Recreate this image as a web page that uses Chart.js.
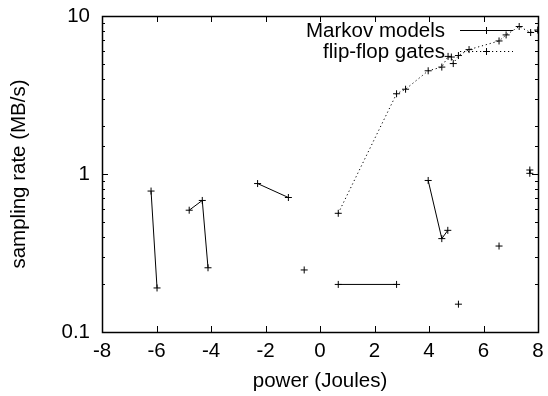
<!DOCTYPE html>
<html>
<head>
<meta charset="utf-8">
<script src="https://cdn.jsdelivr.net/npm/chart.js@4"></script>
<style>
  html, body { margin: 0; padding: 0; background: #fff; }
  #wrap { width: 548px; height: 396px; }
</style>
</head>
<body>
<div id="wrap"><canvas id="chart" width="548" height="396"></canvas></div>
<script>
// series data (null = break in the line)
const markovX = [-6.2, -5.98, null, -4.8, -4.32, -4.11, null, -2.29, -1.16, null, -0.58, null, 0.67, 2.81, null, 3.97, 4.47, 4.69, null, 5.08, null, 6.57, null, 7.7, 7.7];
const markovY = [0.78, 0.19, null, 0.59, 0.68, 0.255, null, 0.87, 0.71, null, 0.247, null, 0.2, 0.2, null, 0.91, 0.39, 0.44, null, 0.15, null, 0.35, null, 1.06, 1.01];
const flipX = [0.67, 2.81, 3.14, 3.97, 4.47, 4.7, 4.82, 4.89, 5.08, 5.47, 6.57, 6.83, 7.31, 7.73, 7.99];
const flipY = [0.564, 3.22, 3.44, 4.5, 4.75, 5.55, 5.5, 5.0, 5.62, 6.13, 6.95, 7.59, 8.58, 7.86, 8.15];
const seriesNames = ['Markov models', 'flip-flop gates'];
const xTicks = [-8, -6, -4, -2, 0, 2, 4, 6, 8];
const yLabelTicks = [0.1, 1, 10];

const FONT = '"Liberation Sans", Arial, Helvetica, sans-serif';
const FSIZE = 20.5;

function toPoints(xs, ys) {
    return xs.map((x, i) => ({ x: x, y: ys[i] }));
}

// gnuplot-like frame: border box, inward ticks on all four sides, legend top right
const framePlugin = {
    id: 'frame',
    afterDraw(chart) {
        const ctx = chart.ctx;
        const a = chart.chartArea;
        const xs = chart.scales.x, ys = chart.scales.y;
        ctx.save();
        ctx.strokeStyle = '#000';
        ctx.lineWidth = 1;
        ctx.setLineDash([]);
        ctx.beginPath();
        xTicks.forEach(v => {
            const px = Math.round(xs.getPixelForValue(v)) + 0.5;
            ctx.moveTo(px, a.bottom); ctx.lineTo(px, a.bottom - 6);
            ctx.moveTo(px, a.top); ctx.lineTo(px, a.top + 6);
        });
        ys.ticks.forEach(t => {
            const major = yLabelTicks.some(v => Math.abs(v - t.value) < 1e-9);
            const len = major ? 6 : 3;
            const py = Math.round(ys.getPixelForValue(t.value)) + 0.5;
            ctx.moveTo(a.left, py); ctx.lineTo(a.left + len, py);
            ctx.moveTo(a.right, py); ctx.lineTo(a.right - len, py);
        });
        ctx.stroke();
        ctx.lineWidth = 1.5;
        ctx.strokeRect(Math.round(a.left) + 0.5, Math.round(a.top) + 0.5,
            Math.round(a.right - a.left), Math.round(a.bottom - a.top));

        // legend
        ctx.font = FSIZE + 'px ' + FONT;
        ctx.fillStyle = '#000';
        ctx.textAlign = 'right';
        ctx.textBaseline = 'middle';
        chart.data.datasets.forEach((ds, i) => {
            const y = 30 + i * 21;
            ctx.fillText(ds.label, 445, y + 1);
            ctx.lineWidth = 1;
            ctx.setLineDash(ds.borderDash || []);
            ctx.beginPath();
            ctx.moveTo(460, y + 0.5); ctx.lineTo(513, y + 0.5);
            ctx.stroke();
            ctx.setLineDash([]);
            ctx.beginPath();
            ctx.moveTo(483, y + 0.5); ctx.lineTo(490, y + 0.5);
            ctx.moveTo(486.5, y - 3); ctx.lineTo(486.5, y + 4);
            ctx.stroke();
        });
        ctx.restore();
    }
};

new Chart(document.getElementById('chart'), {
    type: 'line',
    data: {
        datasets: [
            {
                label: seriesNames[0],
                data: toPoints(markovX, markovY),
                borderColor: '#000',
                backgroundColor: '#000',
                borderWidth: 1,
                pointStyle: 'cross',
                pointRadius: 3.5,
                pointBorderWidth: 1,
                spanGaps: false,
                tension: 0
            },
            {
                label: seriesNames[1],
                data: toPoints(flipX, flipY),
                borderColor: '#000',
                backgroundColor: '#000',
                borderWidth: 1,
                borderDash: [1.2, 2.8],
                pointStyle: 'cross',
                pointRadius: 3.5,
                pointBorderWidth: 1,
                tension: 0
            }
        ]
    },
    options: {
        responsive: false,
        animation: false,
        layout: { padding: { top: 16, right: 10, left: 0, bottom: 0 } },
        plugins: {
            legend: { display: false },
            tooltip: { enabled: false }
        },
        scales: {
            x: {
                type: 'linear',
                min: -8,
                max: 8,
                afterFit(scale) {
                    scale.height = 64;
                    scale.paddingLeft = 0;
                    scale.paddingRight = 0;
                },
                afterBuildTicks(scale) { scale.ticks = xTicks.map(v => ({ value: v })); },
                grid: { display: false, drawTicks: false },
                border: { display: false },
                ticks: {
                    color: '#000',
                    padding: 7,
                    maxRotation: 0,
                    autoSkip: false,
                    font: { family: FONT, size: FSIZE }
                },
                title: {
                    display: true,
                    text: 'power (Joules)',
                    color: '#000',
                    padding: { top: 0, bottom: 2 },
                    font: { family: FONT, size: FSIZE }
                }
            },
            y: {
                type: 'logarithmic',
                min: 0.1,
                max: 10,
                afterFit(scale) {
                    scale.width = 102;
                    scale.paddingTop = 0;
                    scale.paddingBottom = 0;
                },
                grid: { display: false, drawTicks: false },
                border: { display: false },
                ticks: {
                    color: '#000',
                    padding: 12,
                    autoSkip: false,
                    font: { family: FONT, size: FSIZE },
                    callback(v) {
                        return yLabelTicks.some(t => Math.abs(t - v) < 1e-9) ? String(v) : '';
                    }
                },
                title: {
                    display: true,
                    text: 'sampling rate (MB/s)',
                    color: '#000',
                    padding: { top: 7, bottom: 0 },
                    font: { family: FONT, size: FSIZE }
                }
            }
        }
    },
    plugins: [framePlugin]
});
</script>
</body>
</html>
